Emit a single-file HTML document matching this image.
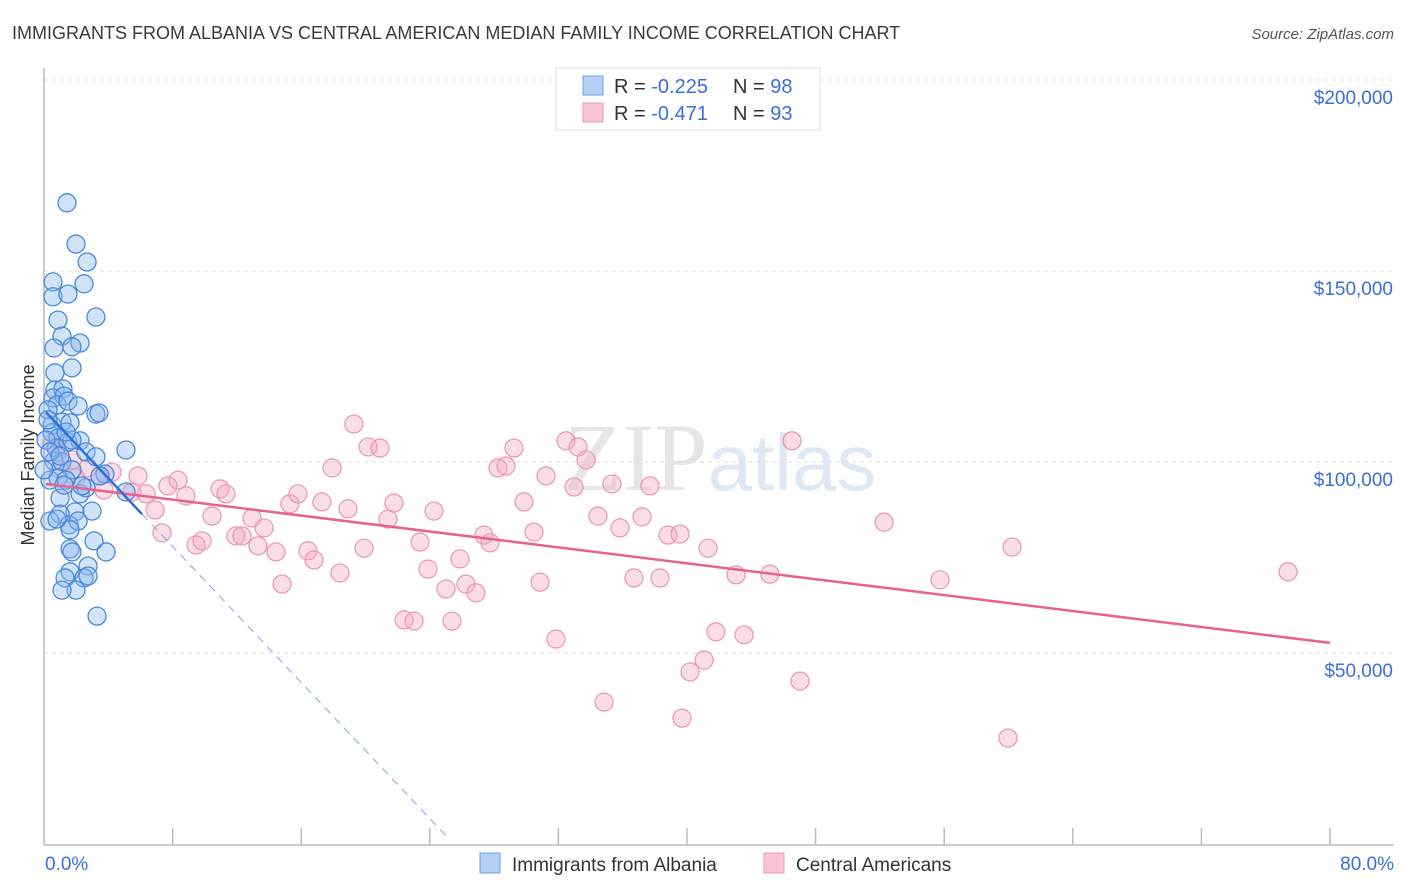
<!DOCTYPE html>
<html><head><meta charset="utf-8"><style>
body{margin:0;background:#fff;font-family:"Liberation Sans",sans-serif;}
svg{display:block}
</style></head><body>
<svg id="chart" width="1406" height="892" viewBox="0 0 1406 892" xmlns="http://www.w3.org/2000/svg">
<text x="12" y="39" font-size="18" fill="#3a3a3a">IMMIGRANTS FROM ALBANIA VS CENTRAL AMERICAN MEDIAN FAMILY INCOME CORRELATION CHART</text>
<text x="1394" y="39" font-size="15" fill="#555" font-style="italic" text-anchor="end">Source: ZipAtlas.com</text>
<text x="720" y="490" font-size="96" text-anchor="middle" fill="#e6e6e6" font-family="Liberation Serif,serif">ZIP<tspan fill="#dfe9f6" font-family="Liberation Sans,sans-serif" font-size="80">atlas</tspan></text>
<text transform="translate(34,455) rotate(-90)" font-size="18" fill="#333" text-anchor="middle">Median Family Income</text>
<g id="grid"></g><g id="axes"></g><g id="pts"></g><g id="lines"></g>
<g>
<rect x="556" y="68" width="264" height="62" fill="#fff" stroke="#ddd"/>
<rect x="583" y="76" width="20" height="19" fill="#b5d0f4" stroke="#6a9fe0"/>
<rect x="583" y="103" width="20" height="19" fill="#f9c5d5" stroke="#ec98b3"/>
<text x="614" y="93" font-size="20" fill="#333">R = <tspan fill="#3a6fd8">-0.225</tspan><tspan x="733">N = </tspan><tspan fill="#3a6fd8">98</tspan></text>
<text x="614" y="120" font-size="20" fill="#333">R = <tspan fill="#3a6fd8">-0.471</tspan><tspan x="733">N = </tspan><tspan fill="#3a6fd8">93</tspan></text>
</g>
<g>
<rect x="480" y="853" width="20" height="20" fill="#b5d0f4" stroke="#6a9fe0"/>
<text x="512" y="871" font-size="19" fill="#333">Immigrants from Albania</text>
<rect x="764" y="853" width="20" height="20" fill="#f9c5d5" stroke="#ec98b3"/>
<text x="796" y="871" font-size="19" fill="#333">Central Americans</text>
</g>
</svg>
<script>
const blueX=[1.43,1.99,2.68,2.49,0.56,0.56,1.49,3.23,0.87,1.12,2.24,0.62,1.74,1.74,0.68,0.68,1.18,0.56,1.24,0.81,1.49,2.12,3.23,3.42,0.25,0.50,1.12,1.62,0.50,0.87,0.75,1.49,2.24,2.61,0.62,1.12,1.74,3.23,3.79,5.10,0.37,0.87,1.37,2.24,2.61,1.00,1.93,2.99,1.00,1.56,2.12,0.37,0.81,1.62,3.11,1.62,1.74,3.86,2.74,1.62,1.31,2.49,2.74,1.99,3.30,1.12,0.12,0.25,0.37,0,1.00,1.74,2.36,5.10,1.24,3.48,1.37];
const blueY=[172.3,161.5,156.8,151.1,151.6,147.7,148.4,142.4,141.6,137.4,135.6,134.3,134.6,129.1,127.8,123.3,123.6,121.2,121.7,119.4,120.4,119.1,117.0,117.3,118.1,114.1,114.9,114.7,112.1,110.7,108.1,109.7,110.0,107.1,104.7,104.5,102.4,105.8,101.3,107.6,99.7,100.3,99.7,96.1,97.7,95.0,91.4,91.6,90.8,88.0,89.0,89.0,89.5,86.7,83.8,81.7,80.9,80.9,77.2,75.7,74.1,74.1,74.6,70.9,64.1,70.9,110.2,115.5,107.1,102.4,106.0,110.2,98.2,96.6,98.4,100.8,112.3];
const pinkX=[0.50,0.87,1.74,2.74,3.48,4.23,5.85,6.35,6.91,7.34,7.71,8.34,8.83,9.46,9.83,10.45,10.95,11.32,11.94,12.32,12.94,13.31,13.69,14.43,14.81,15.30,15.80,16.42,16.80,17.29,17.92,18.41,18.91,19.28,19.91,20.16,20.90,21.40,21.77,22.40,23.02,23.39,23.89,24.26,25.01,25.38,25.88,26.25,26.87,27.37,27.75,28.24,28.74,29.24,29.86,30.48,30.86,31.23,31.85,32.47,32.97,33.22,33.72,34.46,34.84,35.33,35.83,36.70,37.20,37.70,38.32,38.82,39.56,39.69,40.19,41.06,41.31,41.80,43.05,43.55,45.16,46.53,47.03,52.26,55.74,59.97,60.22,77.39,1.00,1.99,3.73,5.47];
const pinkY=[109.4,107.1,105.0,102.9,100.8,101.8,100.8,96.1,91.9,85.9,98.2,99.7,95.6,82.7,83.8,90.3,97.4,96.1,85.1,85.1,89.8,82.5,87.2,80.9,72.5,93.5,96.1,81.2,78.8,94.0,102.9,75.4,92.2,114.4,81.9,108.4,108.1,89.5,93.7,63.1,62.8,83.5,76.4,91.6,71.2,62.8,79.1,72.5,70.2,85.3,83.3,102.9,103.4,108.1,94.0,86.1,73.0,100.8,58.1,110.0,97.9,108.4,105.0,90.3,41.6,98.7,87.2,74.1,90.1,98.2,74.1,85.3,85.6,37.4,49.5,52.6,81.9,60.0,74.9,59.2,75.1,110.0,47.1,88.7,73.6,32.2,82.2,75.7,102.4,100.3,97.1,96.6];
const yTicks=[50,100,150,200];
const yTickLabels=["$50,000","$100,000","$150,000","$200,000"];
const blueLine=[[0.12,117.5],[6.1,90.8],[25.26,5.5]];
const pinkLine=[[0.12,98.7],[80,57.1]];
const NS="http://www.w3.org/2000/svg";
const xs=p=>44+p*1286/80;
const ys=v=>861-v*3.82;
function mk(t,a,parent){const e=document.createElementNS(NS,t);for(const k in a)e.setAttribute(k,a[k]);parent.appendChild(e);return e;}
const grid=document.getElementById('grid'),axes=document.getElementById('axes'),pts=document.getElementById('pts'),lines=document.getElementById('lines');
yTicks.forEach((t,i)=>{
 const g=mk('line',{x1:44,x2:1394,y1:ys(t)-17,y2:ys(t)-17,stroke:'#ddd','stroke-dasharray':'4,4'},grid);
 
 
 const tx=mk('text',{x:1393,y:ys(t)+7,'font-size':19,fill:'#3a6fd8','text-anchor':'end'},axes);
 tx.textContent=yTickLabels[i];
 
 
});
const xa=mk('line',{x1:44,x2:1394,y1:845,y2:845,stroke:'#bbb','stroke-width':1.5},axes);


const ya=mk('line',{x1:44,x2:44,y1:68,y2:845,stroke:'#bbb','stroke-width':1.5},axes);


for(let i=1;i<=10;i++){const tk=mk('line',{x1:xs(i*8),x2:xs(i*8),y1:828,y2:845,stroke:'#bbb','stroke-width':1.5},axes);
 
 }
const l0=mk('text',{x:45,y:870,'font-size':19,fill:'#3a6fd8'},axes);l0.textContent='0.0%';


const l1=mk('text',{x:1394,y:870,'font-size':19,fill:'#3a6fd8','text-anchor':'end'},axes);l1.textContent='80.0%';


pinkX.forEach((x,i)=>{const c=mk('circle',{cx:xs(x),cy:ys(pinkY[i]),r:9,fill:'rgba(245,170,195,0.4)',stroke:'#eb9ab5','stroke-width':1.3},pts);
 
 });
blueX.forEach((x,i)=>{const c=mk('circle',{cx:xs(x),cy:ys(blueY[i]),r:9,fill:'rgba(140,185,240,0.4)',stroke:'#4a88dd','stroke-width':1.3},pts);
 
 });
const pl=mk('line',{x1:xs(pinkLine[0][0]),y1:ys(pinkLine[0][1]),x2:xs(pinkLine[1][0]),y2:ys(pinkLine[1][1]),stroke:'#e8608e','stroke-width':2.5},lines);


const bl=mk('line',{x1:xs(blueLine[0][0]),y1:ys(blueLine[0][1]),x2:xs(blueLine[1][0]),y2:ys(blueLine[1][1]),stroke:'#2f6fd6','stroke-width':2.5},lines);


const bd=mk('line',{x1:xs(blueLine[1][0]),y1:ys(blueLine[1][1]),x2:xs(blueLine[2][0]),y2:ys(blueLine[2][1]),stroke:'#7fa6df','stroke-width':1,'stroke-dasharray':'8,6'},lines);


</script>
</body></html>
